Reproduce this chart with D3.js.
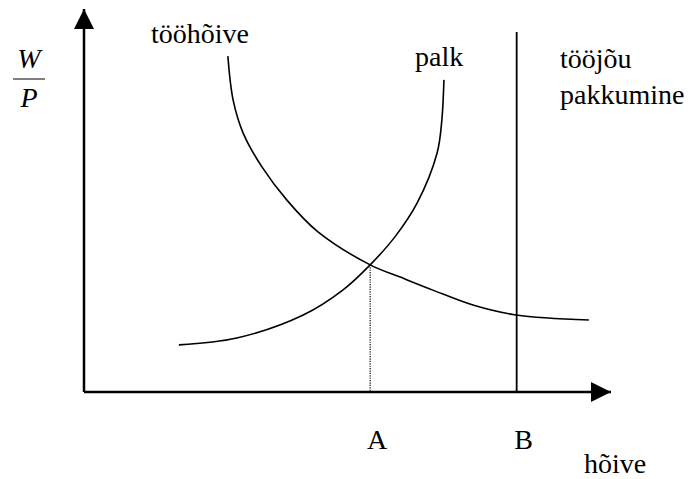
<!DOCTYPE html>
<html>
<head>
<meta charset="utf-8">
<script src="https://cdn.jsdelivr.net/npm/d3@7"></script>
<style>
  body { margin: 0; background: #fff; }
  svg text { font-family: "Liberation Serif", "Times New Roman", serif; }
</style>
</head>
<body>
<script>
// Labour market diagram: demand (tööhõive), wage curve (palk), supply (tööjõu pakkumine)

// curve points in diagram units [x, y]
const demandX = [2.73, 2.83, 3.02, 3.38, 3.85, 4.44, 5.43, 6.00, 6.62, 7.38, 8.20, 9.58];
const demandY = [8.77, 7.62, 6.76, 5.87, 5.01, 4.18, 3.32, 3.00, 2.66, 2.27, 2.01, 1.88];
const wageX = [1.80, 2.90, 4.16, 4.91, 5.43, 5.90, 6.32, 6.70, 6.79, 6.83];
const wageY = [1.23, 1.41, 2.01, 2.66, 3.32, 4.05, 4.93, 6.24, 7.10, 8.15];
const supplyX = 8.21;
const supplyTop = 9.40;
const equilibrium = [5.43, 3.32];
const tickLabels = ["A", "B"];
const tickValues = [5.43, 8.21];

const width = 692, height = 479;

const svg = d3.select("body").append("svg")
  .attr("width", width)
  .attr("height", height);

const x = d3.scaleLinear().domain([0, 10]).range([84, 611]);
const y = d3.scaleLinear().domain([0, 10]).range([392, 9]);

//Arrow markers
svg.append("defs").append("marker")
  .attr("id", "arrow")
  .attr("viewBox", "0 0 20 20")
  .attr("refX", 20).attr("refY", 10)
  .attr("markerWidth", 20).attr("markerHeight", 20)
  .attr("markerUnits", "userSpaceOnUse")
  .attr("orient", "auto")
  .append("path")
    .attr("d", "M0,0 L20,10 L0,20 Z")
    .attr("fill", "#000");

//Axes
svg.append("line")
  .attr("x1", x(0)).attr("y1", y(0))
  .attr("x2", x(0)).attr("y2", y(10))
  .attr("stroke", "#000").attr("stroke-width", 2.5)
  .attr("marker-end", "url(#arrow)");
svg.append("line")
  .attr("x1", x(0)).attr("y1", y(0))
  .attr("x2", x(10)).attr("y2", y(0))
  .attr("stroke", "#000").attr("stroke-width", 2.5)
  .attr("marker-end", "url(#arrow)");

const line = d3.line()
  .x(d => x(d[0]))
  .y(d => y(d[1]))
  .curve(d3.curveCatmullRom.alpha(0.5));

//Curves
svg.append("path")
  .datum(d3.zip(demandX, demandY))
  .attr("d", line)
  .attr("fill", "none").attr("stroke", "#000").attr("stroke-width", 1.6);

svg.append("path")
  .datum(d3.zip(wageX, wageY))
  .attr("d", line)
  .attr("fill", "none").attr("stroke", "#000").attr("stroke-width", 1.6);

//Supply line
svg.append("line")
  .attr("x1", x(supplyX)).attr("y1", y(0))
  .attr("x2", x(supplyX)).attr("y2", y(supplyTop))
  .attr("stroke", "#000").attr("stroke-width", 1.8);

//Dotted drop line
svg.append("line")
  .attr("x1", x(equilibrium[0])).attr("y1", y(equilibrium[1]))
  .attr("x2", x(equilibrium[0])).attr("y2", y(0))
  .attr("stroke", "#000").attr("stroke-width", 1.2)
  .attr("stroke-dasharray", "1.2,1.2");

const label = (tx, ty, s) => svg.append("text")
  .attr("x", tx).attr("y", ty)
  .attr("font-size", 28)
  .attr("fill", "#000")
  .text(s);

//Tick labels
tickLabels.forEach((d, i) => {
  label(x(tickValues[i]) + 7, 449, d).attr("text-anchor", "middle");
});

//Text labels
label(584, 473, "hõive");
label(151, 43, "tööhõive");
label(415, 66, "palk");
label(560, 68, "tööjõu");
label(560, 104, "pakkumine");

//W/P fraction
label(29, 68, "W").attr("text-anchor", "middle").attr("font-style", "italic");
svg.append("line")
  .attr("x1", 13).attr("x2", 45).attr("y1", 79).attr("y2", 79)
  .attr("stroke", "#000").attr("stroke-width", 1);
label(29, 107, "P").attr("text-anchor", "middle").attr("font-style", "italic");
</script>
</body>
</html>
